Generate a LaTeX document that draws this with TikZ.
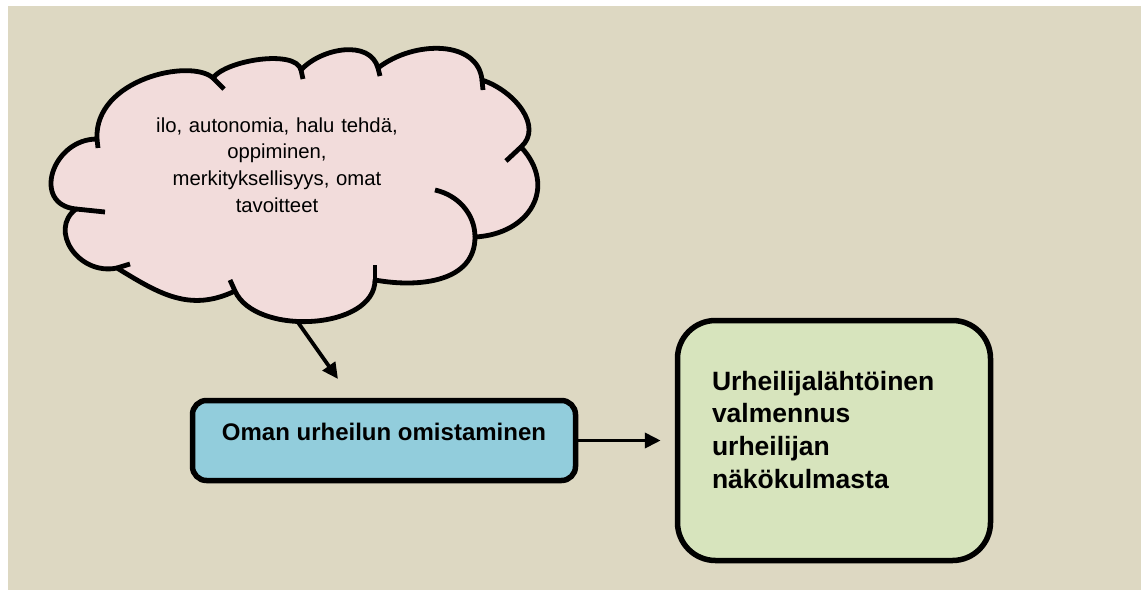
\documentclass[tikz,border=0pt]{standalone}
\usepackage{fontspec}
\setmainfont{Liberation Sans}
\usetikzlibrary{arrows.meta}
\definecolor{paper}{HTML}{DDD8C2}
\definecolor{cloudpink}{HTML}{F2DCDB}
\definecolor{ownblue}{HTML}{92CDDC}
\definecolor{goalgreen}{HTML}{D7E4BD}
\begin{document}
\begin{tikzpicture}[x=1pt, y=-1pt,
    puff/.style = {line width=4.8pt, line join=round},
    stub/.style = {line width=4.8pt},
    box/.style = {draw, line width=5.5pt, inner sep=0pt},
    arr/.style = {line width=3.8pt, -{Triangle[length=16pt, width=15pt]}}]
  \useasboundingbox (0,0) rectangle (1141,590);
  \fill[white] (0,0) rectangle (1141,590);
  \fill[paper] (8,6) rectangle (1141,590);
  % cloud
  \filldraw[puff, fill=cloudpink] (97,139)
    .. controls (94,79) and (191,58) .. (213,78)
    .. controls (226,60) and (296,49) .. (301,70)
    .. controls (321,48) and (370,39) .. (378,68)
    .. controls (414,40) and (478,40) .. (482,80)
    .. controls (515,91) and (543.5,127) .. (521,147)
    .. controls (558,187) and (530,234) .. (475,237)
    .. controls (475,282) and (419,288) .. (375,280)
    .. controls (375,330) and (255.5,336.5) .. (235,291)
    .. controls (190,312.5) and (159.5,294) .. (117,268)
    .. controls (78.6,276) and (48,230) .. (76,209)
    .. controls (31,204.5) and (52,139) .. (97,139)
    -- cycle;
  \draw[stub] (97,139) -- (98,148);
  \draw[stub] (213,78) -- (224,89);
  \draw[stub] (301,70) -- (303,79);
  \draw[stub] (378,68) -- (380,76);
  \draw[stub] (482,80) -- (483,90);
  \draw[stub] (521,147) -- (506,161);
  \draw[stub] (475,237) .. controls (475,214) and (458,195) .. (435,190);
  \draw[stub] (375,280) -- (375,265);
  \draw[stub] (235,291) -- (230,280);
  \draw[stub] (117,268) -- (130,264);
  \draw[stub] (76,209) -- (105,212);
  \node[align=center, text width=280pt, anchor=base,
    font=\fontsize{20.3}{26.7}\selectfont] (needs) at (277,132)
    {ilo, autonomia, halu tehdä,\\ oppiminen,\\ merkityksellisyys, omat\\ tavoitteet};
  \node[box, fill=ownblue, rounded corners=14pt, minimum width=383pt, minimum height=80pt,
    text height=20pt, text depth=20pt, font=\bfseries\fontsize{24}{28}\selectfont]
    (own) at (384,440.5) {Oman urheilun omistaminen};
  \node[box, fill=goalgreen, rounded corners=38pt, minimum width=313pt, minimum height=240pt,
    text width=244pt, align=left, text height=69.5pt, text depth=170.5pt,
    font=\bfseries\fontsize{26.5}{32.7}\selectfont]
    (goal) at (834,440.5) {Urheilijalähtöinen\\ valmennus\\ urheilijan\\ näkökulmasta};
  \coordinate (foot) at (297,321);
  \coordinate (tip) at (338,379);
  \draw[arr] (foot) -- (tip);
  \draw[arr, shorten >=14pt] (own) -- (goal);
\end{tikzpicture}
\end{document}
